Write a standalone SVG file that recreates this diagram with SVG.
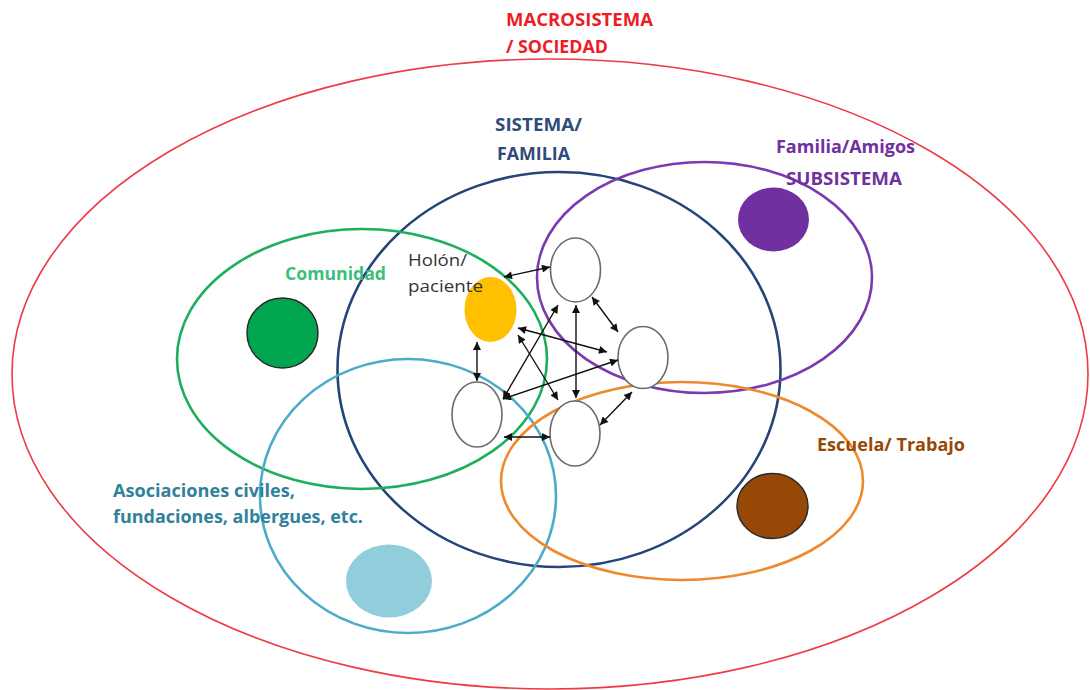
<svg xmlns="http://www.w3.org/2000/svg" width="1090" height="690" viewBox="0 0 1090 690">
<defs>
<style>
.lbl{font-family:"Open Sans","Liberation Sans",sans-serif;font-size:17px;font-weight:bold}
.reg{font-family:"Open Sans","Liberation Sans",sans-serif;font-size:17px;font-weight:normal}
.ring{fill:none}
.member{fill:#fff;stroke:#6b6b6b;stroke-width:1.6}
.conn{stroke:#111;stroke-width:1.4;fill:none;marker-start:url(#ah);marker-end:url(#ah)}
</style>
<marker id="ah" viewBox="0 0 10 10" refX="10" refY="5" markerWidth="9" markerHeight="8" markerUnits="userSpaceOnUse" orient="auto-start-reverse">
<path d="M0,0 L10,5 L0,10 z" fill="#111"/>
</marker>
</defs>
<rect width="1090" height="690" fill="#fff"/>

<g id="macrosistema">
<ellipse class="ring" cx="550" cy="374" rx="538" ry="315" stroke="#EE3B45" stroke-width="1.6"/>
<text class="lbl" x="506" y="26" fill="#EE1C25" textLength="147" lengthAdjust="spacingAndGlyphs">MACROSISTEMA</text>
<text class="lbl" x="506" y="53" fill="#EE1C25" textLength="102" lengthAdjust="spacingAndGlyphs">/ SOCIEDAD</text>
</g>

<g id="sistema">
<ellipse class="ring" cx="559" cy="369.5" rx="221.5" ry="197.5" stroke="#24447A" stroke-width="2.6"/>
<text class="lbl" x="495" y="131" fill="#2F4B7C" textLength="87" lengthAdjust="spacingAndGlyphs">SISTEMA/</text>
<text class="lbl" x="497" y="160" fill="#2F4B7C" textLength="73" lengthAdjust="spacingAndGlyphs">FAMILIA</text>
</g>

<g id="familia-amigos">
<ellipse class="ring" cx="704.5" cy="277.5" rx="167.5" ry="115.5" stroke="#7A3AB0" stroke-width="2.6"/>
<ellipse cx="773.5" cy="219.5" rx="35.5" ry="32" fill="#7030A0"/>
<text class="lbl" x="776" y="153" fill="#7030A0" textLength="139" lengthAdjust="spacingAndGlyphs">Familia/Amigos</text>
<text class="lbl" x="786" y="185" fill="#7030A0" textLength="116" lengthAdjust="spacingAndGlyphs">SUBSISTEMA</text>
</g>

<g id="comunidad">
<ellipse class="ring" cx="362" cy="359" rx="185" ry="130" stroke="#1DAF5C" stroke-width="2.6"/>
<ellipse cx="282.5" cy="333" rx="35.5" ry="35" fill="#00A550" stroke="#2b2b2b" stroke-width="1.5"/>
<text class="lbl" x="285" y="280" fill="#3DBE7A" textLength="101" lengthAdjust="spacingAndGlyphs">Comunidad</text>
</g>

<g id="asociaciones">
<ellipse class="ring" cx="408" cy="496" rx="148" ry="137" stroke="#4AACC6" stroke-width="2.6"/>
<ellipse cx="389" cy="581" rx="43" ry="36.5" fill="#92CDDC"/>
<text class="lbl" x="113" y="497" fill="#31819B" textLength="182" lengthAdjust="spacingAndGlyphs">Asociaciones civiles,</text>
<text class="lbl" x="113" y="523" fill="#31819B" textLength="250" lengthAdjust="spacingAndGlyphs">fundaciones, albergues, etc.</text>
</g>

<g id="escuela-trabajo">
<ellipse class="ring" cx="682" cy="481" rx="181" ry="99" stroke="#EE8A2E" stroke-width="2.6"/>
<ellipse cx="772.5" cy="506" rx="35.5" ry="32.5" fill="#974706" stroke="#2b2b2b" stroke-width="1.5"/>
<text class="lbl" x="817" y="451" fill="#984806" textLength="148" lengthAdjust="spacingAndGlyphs">Escuela/ Trabajo</text>
</g>

<g id="holon">
<ellipse cx="490.5" cy="309.5" rx="26" ry="32.5" fill="#FFC000"/>
<text class="reg" x="408" y="266" fill="#333" textLength="59" lengthAdjust="spacingAndGlyphs">Holón/</text>
<text class="reg" x="408" y="292" fill="#333" textLength="75" lengthAdjust="spacingAndGlyphs">paciente</text>
</g>

<g id="miembro-1"><ellipse class="member" cx="575.5" cy="270" rx="25" ry="32"/></g>
<g id="miembro-2"><ellipse class="member" cx="643" cy="357.5" rx="25" ry="31"/></g>
<g id="miembro-3"><ellipse class="member" cx="575" cy="433.5" rx="25" ry="32.5"/></g>
<g id="miembro-4"><ellipse class="member" cx="477" cy="414.5" rx="25" ry="32.5"/></g>

<g id="connectors">
<line class="conn" x1="504" y1="277" x2="550" y2="267"/>
<line class="conn" x1="592" y1="297" x2="618" y2="332"/>
<line class="conn" x1="576" y1="305" x2="576" y2="398"/>
<line class="conn" x1="518" y1="328" x2="607" y2="352"/>
<line class="conn" x1="518" y1="335" x2="558" y2="400"/>
<line class="conn" x1="477" y1="342" x2="477" y2="381"/>
<line class="conn" x1="503" y1="399" x2="558" y2="305"/>
<line class="conn" x1="503" y1="399" x2="618" y2="360"/>
<line class="conn" x1="504" y1="437" x2="550" y2="437"/>
<line class="conn" x1="600" y1="425" x2="632" y2="392"/>
</g>
</svg>
